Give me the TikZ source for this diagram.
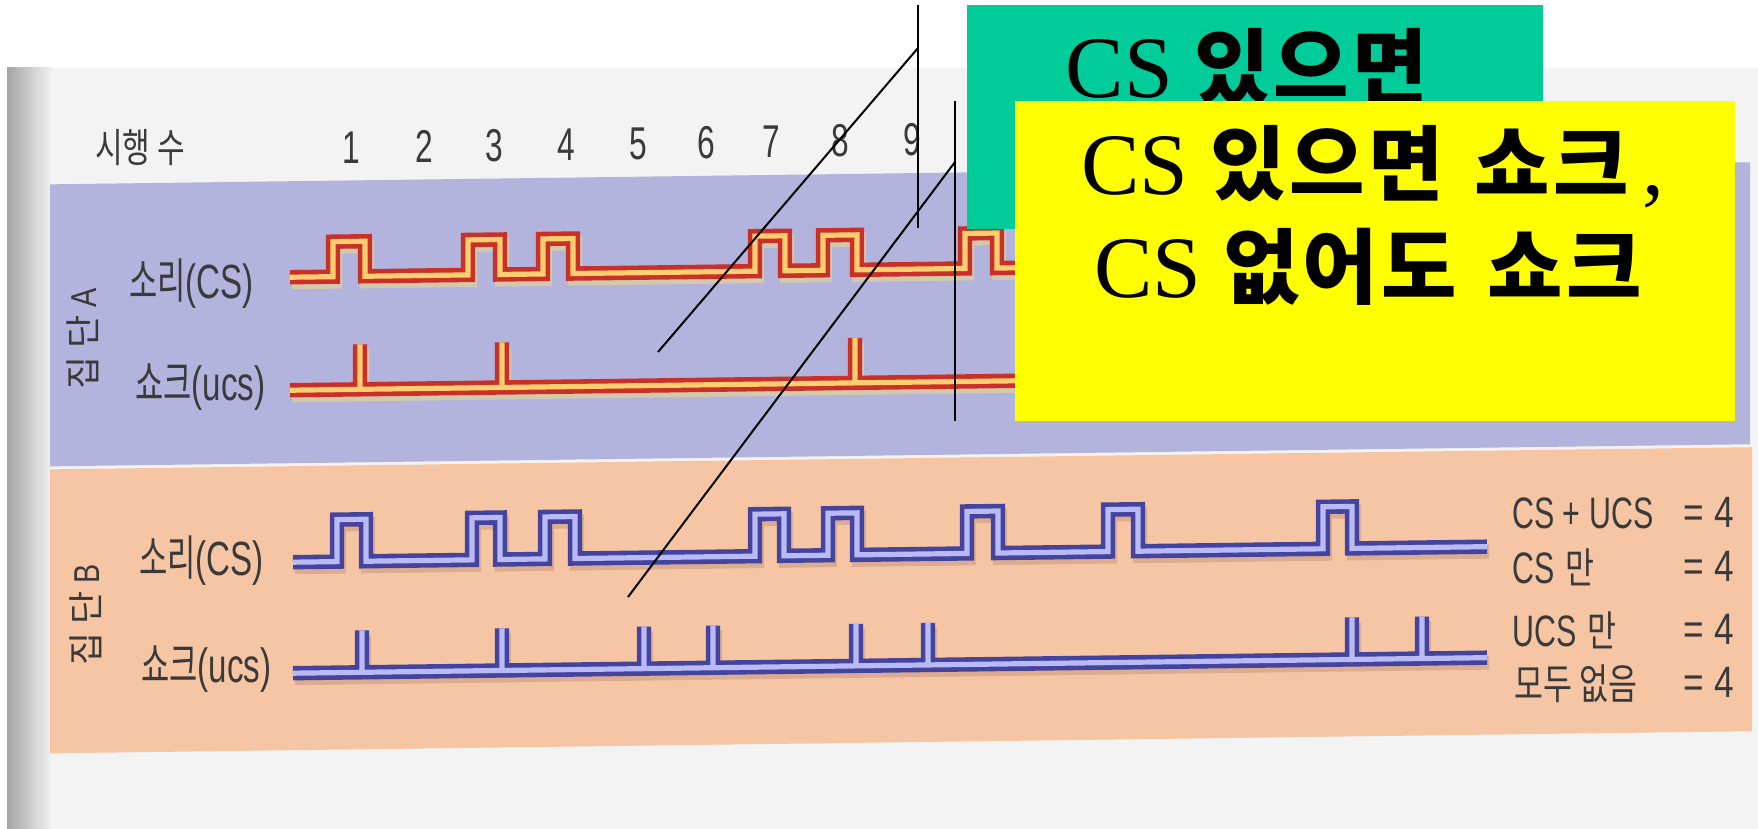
\documentclass[tikz,border=0pt]{standalone}
\usepackage{fontspec}
\setmainfont{Liberation Serif}
\newfontfamily\krfont{Noto Sans CJK KR}
\newfontfamily\krnarrow{Noto Sans CJK KR}[FakeStretch=0.75]
\newfontfamily\krcond{Noto Sans CJK KR}[FakeStretch=0.64]
\newfontfamily\lsnarrow{Liberation Sans}[FakeStretch=0.8]
\newfontfamily\lscond{Liberation Sans}[FakeStretch=0.69]
\definecolor{panelblue}{RGB}{178,180,222}
\definecolor{panelpeach}{RGB}{246,198,164}
\definecolor{pagegray}{RGB}{243,243,243}
\definecolor{stripgray}{RGB}{165,165,165}
\definecolor{redouter}{RGB}{200,48,40}
\definecolor{redinner}{RGB}{255,206,112}
\definecolor{blueouter}{RGB}{68,68,158}
\definecolor{blueinner}{RGB}{186,186,246}
\definecolor{glowA}{RGB}{236,214,140}
\definecolor{glowB}{RGB}{170,125,105}
\definecolor{calloutgreen}{RGB}{0,204,153}
\definecolor{calloutyellow}{RGB}{255,255,0}
\definecolor{inkgray}{RGB}{58,58,58}
\tikzset{
  redsig/.style={draw=redouter, line width=2.3pt, double=redinner, double distance=2.6pt, line join=miter},
  bluesig/.style={draw=blueouter, line width=2.3pt, double=blueinner, double distance=2.6pt, line join=miter},
  glowsigA/.style={draw=glowA, line width=7pt, opacity=0.6, line join=miter},
  glowsigB/.style={draw=glowB, line width=7pt, opacity=0.35, line join=miter},
  rowlabel/.style={text=inkgray, anchor=west, inner sep=0pt, font=\fontsize{24pt}{28pt}\selectfont},
  hdrlabel/.style={text=inkgray, inner sep=0pt, font=\fontsize{20pt}{24pt}\selectfont},
  numlabel/.style={text=inkgray, inner sep=0pt, font=\fontsize{23pt}{27pt}\selectfont\lscond},
  grplabel/.style={text=inkgray, inner sep=0pt, rotate=90, font=\fontsize{18pt}{22pt}\selectfont},
  sumlabel/.style={text=inkgray, anchor=west, inner sep=0pt, font=\fontsize{22pt}{26pt}\selectfont},
  sumvalue/.style={text=inkgray, anchor=east, inner sep=0pt, font=\fontsize{22pt}{26pt}\selectfont\lsnarrow},
  greenbox/.style={fill=calloutgreen, inner sep=0pt, anchor=north west, minimum width=288pt, minimum height=112pt},
  yellowbox/.style={fill=calloutyellow, inner sep=0pt, anchor=north west, minimum width=360pt, minimum height=160pt},
  bigtext/.style={anchor=base, inner sep=0pt, text=black, font=\fontsize{43.8pt}{50pt}\selectfont},
  calloutline/.style={draw=black, line width=1pt}
}
\newcommand\kotext[1]{{\krfont\bfseries\fontsize{41pt}{50pt}\selectfont #1}}
\newcommand\ksp{\hspace{1.8pt}}
\newcommand\kwsp{\hspace{6pt}}
\newcommand\kosum[1]{{\krnarrow\fontsize{21pt}{25pt}\selectfont #1}}
\begin{document}
\begin{tikzpicture}[x=0.5pt,y=-0.5pt]
\useasboundingbox (0,0) rectangle (1758,829);
\fill[white] (0,0) rectangle (1758,829);
\fill[pagegray] (7,68) rectangle (1758,829);
\shade[left color=stripgray, right color=pagegray] (7,68) rectangle (52,829);

\def\sigCSa{(290,281) -- (333,281) -- (333,246) -- (365,246) -- (365,281) -- (468,281) -- (468,246) -- (500,246) -- (500,281) -- (543,281) -- (543,246) -- (573,246) -- (573,281) -- (755,281) -- (755,246) -- (785,246) -- (785,281) -- (823,281) -- (823,246) -- (857,246) -- (857,281) -- (965,281) -- (965,246) -- (997,246) -- (997,281) -- (1400,281)}
\def\sigUCSa{(290,394) -- (1400,394) (360,394) -- (360,349) (502,394) -- (502,349) (855,394) -- (855,349)}
\def\sigCSb{(293,566) -- (337,566) -- (337,524) -- (366,524) -- (366,566) -- (472,566) -- (472,524) -- (500,524) -- (500,566) -- (545,566) -- (545,524) -- (575,524) -- (575,566) -- (755,566) -- (755,524) -- (784,524) -- (784,566) -- (828,566) -- (828,524) -- (857,524) -- (857,566) -- (967,566) -- (967,524) -- (998,524) -- (998,566) -- (1108,566) -- (1108,524) -- (1138,524) -- (1138,566) -- (1323,566) -- (1323,524) -- (1352,524) -- (1352,566) -- (1487,566)}
\def\sigUCSb{(293,677) -- (1487,677) (362,677) -- (362,635) (502,677) -- (502,635) (644,677) -- (644,635) (713,677) -- (713,635) (856,677) -- (856,635) (928,677) -- (928,635) (1352,677) -- (1352,635) (1422,677) -- (1422,635)}

\begin{scope}[yslant=0.013]
  % panels
  \fill[panelblue] (50,185) rectangle (1750,467);
  \fill[panelpeach] (50,470) rectangle (1752,754);
  % header
  \node[hdrlabel, anchor=west] (trials) at (95,149) {\krnarrow 시행 수};
  \foreach \n/\xx in {1/351,2/424,3/494,4/566,5/638,6/706,7/771,8/840,9/912}
    \node[numlabel] (num\n) at (\xx,152) {\n};
  % group labels
  \node[grplabel] (grpA) at (83,340) {{\krfont 집\hspace{4pt}단}\hspace{4pt}{\lsnarrow A}};
  \node[grplabel] (grpB) at (86,616) {{\krfont 집\hspace{4pt}단}\hspace{4pt}{\lsnarrow B}};
  % row labels
  \node[rowlabel] (labCSa) at (129,285) {{\krcond 소리}{\lscond (CS)}};
  \node[rowlabel] (labUCSa) at (135,389) {{\krcond 쇼크}{\lscond (ucs)}};
  \node[rowlabel] (labCSb) at (139,562) {{\krcond 소리}{\lscond (CS)}};
  \node[rowlabel] (labUCSb) at (141,671) {{\krcond 쇼크}{\lscond (ucs)}};
  % signals group A
  \draw[glowsigA, shift={(2,5)}] \sigCSa;
  \draw[glowsigA, shift={(2,5)}] \sigUCSa;
  \draw[redsig] \sigCSa;
  \draw[redsig] \sigUCSa;
  % signals group B
  \draw[glowsigB, shift={(2,5)}] \sigCSb;
  \draw[glowsigB, shift={(2,5)}] \sigUCSb;
  \draw[bluesig] \sigCSb;
  \draw[bluesig] \sigUCSb;
  % summary labels group B
  \node[sumlabel] (sum1) at (1512,533) {{\lscond CS + UCS}};
  \node[sumlabel] (sum2) at (1512,587) {{\lscond CS} \kosum{만}};
  \node[sumlabel] (sum3) at (1512,650) {{\lscond UCS} \kosum{만}};
  \node[sumlabel] (sum4) at (1514,703) {\kosum{모두 없음}};
  \node[sumvalue] (val1) at (1734,535) {= 4};
  \node[sumvalue] (val2) at (1734,589) {= 4};
  \node[sumvalue] (val3) at (1734,652) {= 4};
  \node[sumvalue] (val4) at (1734,705) {= 4};
\end{scope}

% callout boxes
\node[greenbox] (gbox) at (967,5) {};
\node[bigtext] (gtext) at (1247,98) {CS \kotext{있\ksp 으\ksp 면}};
\node[yellowbox] (ybox) at (1015,101) {};
\node[bigtext] (yline1) at (1373,195) {CS \kotext{있\ksp 으\ksp 면\kwsp{} 쇼\ksp 크}\hspace{7pt},};
\node[bigtext] (yline2) at (1368,297) {CS \kotext{없\ksp 어\ksp 도\kwsp{} 쇼\ksp 크}};

% callout leader lines
\coordinate (gtop) at (918,5);
\coordinate (gbot) at (918,228);
\coordinate (gknee) at (918,48);
\coordinate (gtip) at (658,352);
\coordinate (ytop) at (955,101);
\coordinate (ybot) at (955,421);
\coordinate (yknee) at (955,162);
\coordinate (ytip) at (628,597);
\draw[calloutline] (gtop) -- (gbot);
\draw[calloutline] (gknee) -- (gtip);
\draw[calloutline] (ytop) -- (ybot);
\draw[calloutline] (yknee) -- (ytip);
\end{tikzpicture}
\end{document}
